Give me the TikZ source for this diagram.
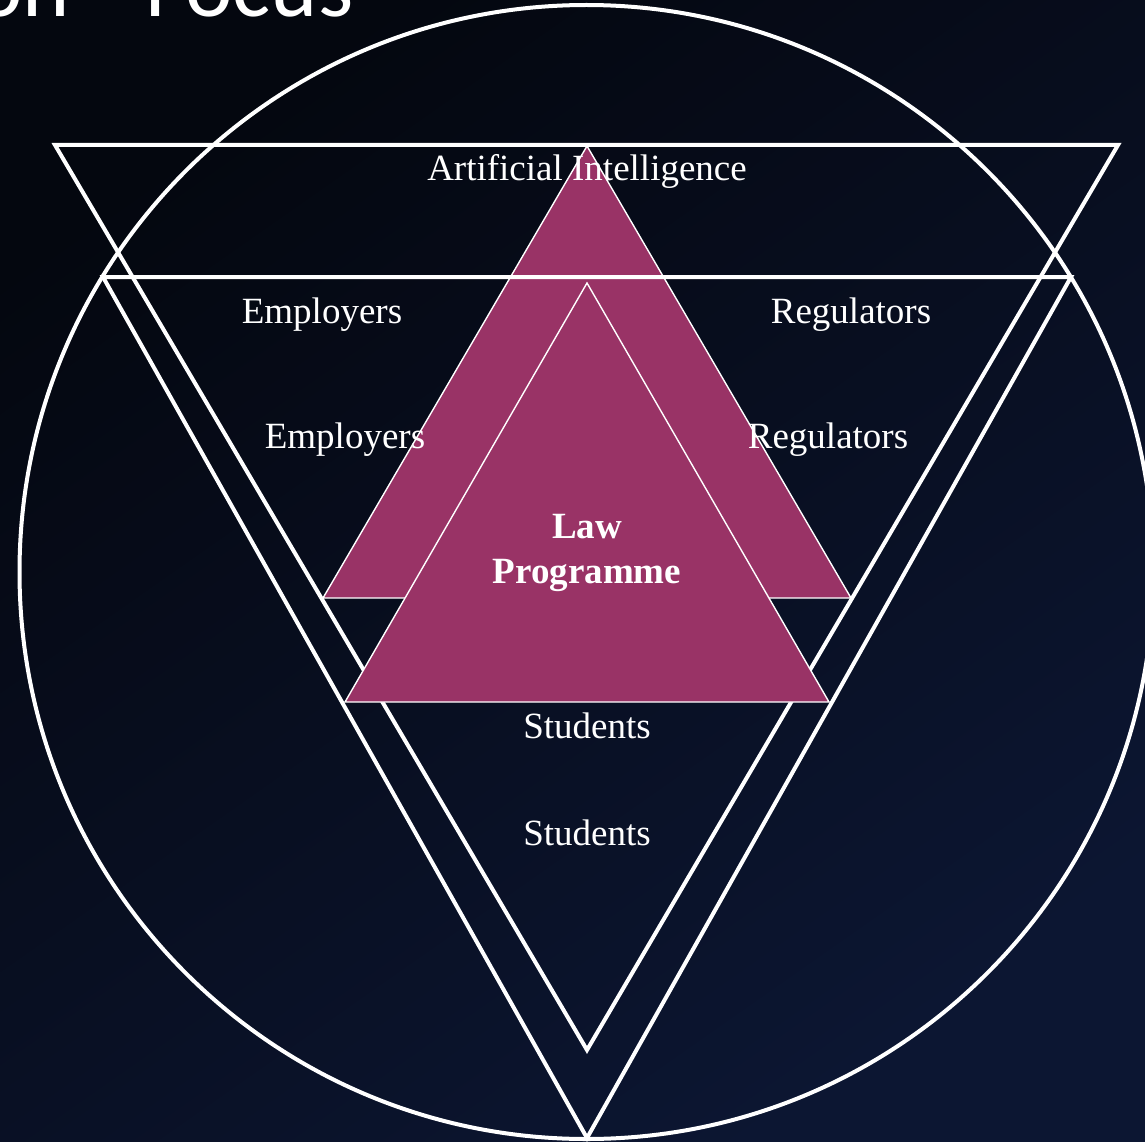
\documentclass[tikz,border=0pt]{standalone}
\usepackage{fontspec}
\setmainfont{Liberation Serif}
\newfontfamily\headfont{Carlito}
\definecolor{bgtop}{RGB}{4,7,15}
\definecolor{bgbot}{RGB}{12,22,50}
\definecolor{lawred}{RGB}{153,51,102}
\tikzset{
  ring/.style={draw=white,line width=4pt},
  wedge/.style={fill=lawred,draw=white,line width=1.4pt},
  lbl/.style={text=white,font=\fontsize{37}{44}\selectfont,anchor=base,inner sep=0pt},
  boldlbl/.style={lbl,font=\bfseries\fontsize{37}{44}\selectfont},
  head/.style={text=white,font=\headfont\fontsize{90}{90}\selectfont,inner sep=0pt}
}
\begin{document}
\begin{tikzpicture}[x=1pt,y=-1pt]
\useasboundingbox (0,0) rectangle (1145,1142);
\clip (0,0) rectangle (1145,1142);
\shade[top color=bgtop,bottom color=bgbot,shading angle=35] (0,0) rectangle (1145,1142);
\node[head,anchor=base east] (on) at (70,17) {on};
\node[head,anchor=base west] (focus) at (145,17) {Focus};
\draw[wedge] (587,146) -- (851,598) -- (323,598) -- cycle;
\draw[ring] (55,145) -- (1118,145) -- (587,1050) -- cycle;
\draw[ring] (103,277) -- (1071,277) -- (587,1138) -- cycle;
\draw[ring] (586.5,572) circle[radius=567];
\draw[wedge] (587,283) -- (829,702) -- (345,702) -- cycle;
\node[lbl] (ai) at (587,181) {Artificial Intelligence};
\node[lbl] (emp1) at (322,323) {Employers};
\node[lbl] (reg1) at (851,323) {Regulators};
\node[lbl] (emp2) at (345,448) {Employers};
\node[lbl] (reg2) at (828,448) {Regulators};
\node[boldlbl] (law) at (587,538) {Law};
\node[boldlbl] (prog) at (587,583) {Programme};
\node[lbl] (stu1) at (587,738) {Students};
\node[lbl] (stu2) at (587,845) {Students};
\end{tikzpicture}
\end{document}
